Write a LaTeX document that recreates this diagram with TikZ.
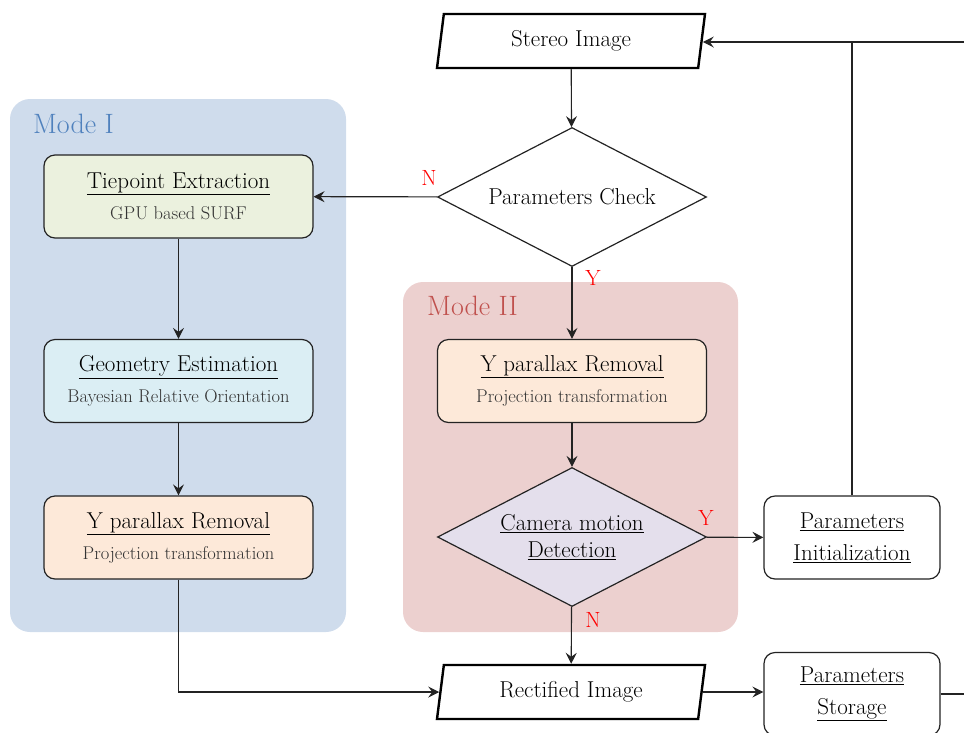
\documentclass[tikz,border=0pt]{standalone}
\usepackage{fontspec}
\usetikzlibrary{shapes,arrows.meta}

\definecolor{modeonebg}{RGB}{207,220,236}
\definecolor{modetwobg}{RGB}{236,208,207}
\definecolor{modeonetxt}{RGB}{79,129,189}
\definecolor{modetwotxt}{RGB}{192,80,77}
\definecolor{tiefill}{RGB}{235,241,222}
\definecolor{geofill}{RGB}{219,238,244}
\definecolor{yplfill}{RGB}{253,233,217}
\definecolor{camfill}{RGB}{228,223,236}
\definecolor{linecol}{RGB}{35,35,35}

\newcommand{\subtxt}[1]{{\fontsize{18.5}{22}\selectfont\color{black!80} #1}}

\begin{document}
\begin{tikzpicture}[x=1pt,y=-1pt,
  flow/.style={draw=linecol, line width=1.1pt, -{Stealth[length=11pt,width=11pt,inset=4pt]}},
  plain/.style={draw=linecol, line width=1.1pt},
  box/.style={draw=linecol, line width=1.2pt, rounded corners=11pt, minimum width=269pt, minimum height=83pt, align=center, inner sep=2pt, font=\fontsize{23}{27}\selectfont},
  smallbox/.style={box, minimum width=176pt},
  io/.style={draw=black, line width=2.4pt, fill=white, trapezium, trapezium left angle=76, trapezium right angle=104, trapezium stretches body, minimum width=268pt, minimum height=54pt, font=\fontsize{23}{27}\selectfont},
  decide/.style={draw=linecol, line width=1.2pt, diamond, aspect=2.2, minimum width=269pt, minimum height=139pt, inner sep=0pt, align=center, font=\fontsize{23}{27}\selectfont},
  yesno/.style={text=red, inner sep=0pt, font=\fontsize{22}{26}\selectfont},
  modelabel/.style={anchor=base west, inner sep=0pt, font=\fontsize{28}{32}\selectfont}]
  % \draw[step=50,thin,gray!40] (0,0) grid (964,732);
  \useasboundingbox (0,0) rectangle (964,732);

  \fill[modeonebg, rounded corners=20pt] (10,99) rectangle (346,632);
  \fill[modetwobg, rounded corners=20pt] (403,282) rectangle (738,632);
  \node[modelabel, text=modeonetxt] (modeone) at (33,133) {Mode I};
  \node[modelabel, text=modetwotxt] (modetwo) at (427,315) {Mode II};

  \node[io] (stereo) at (571,41) {Stereo Image};
  \node[decide, fill=white] (check) at (572,197) {Parameters Check};

  \node[box, fill=tiefill] (tie) at (178.5,196.5) {\underline{Tiepoint Extraction}\\[4pt]\subtxt{GPU based SURF}};
  \node[box, fill=geofill] (geo) at (178.5,381) {\underline{Geometry Estimation}\\[4pt]\subtxt{Bayesian Relative Orientation}};
  \node[box, fill=yplfill] (yplone) at (178.5,537.5) {\underline{Y parallax Removal}\\[4pt]\subtxt{Projection transformation}};

  \node[box, fill=yplfill] (ypltwo) at (572,381) {\underline{Y parallax Removal}\\[4pt]\subtxt{Projection transformation}};
  \node[decide, fill=camfill] (cam) at (572,537) {\underline{Camera motion}\\\underline{Detection}};

  \node[smallbox, fill=white] (init) at (852,537.5) {\underline{Parameters}\\[5pt]\underline{Initialization}};
  \node[io] (rect) at (571,692) {Rectified Image};
  \node[smallbox, fill=white] (store) at (852,694) {\underline{Parameters}\\[5pt]\underline{Storage}};

  \coordinate (fb) at (964,42);
  \coordinate (out) at (964,694);

  \node[yesno] (nocheck) at (429,178) {N};
  \node[yesno] (yescheck) at (593,278) {Y};
  \node[yesno] (yescam) at (706,518) {Y};
  \node[yesno] (nocam) at (593,620) {N};

  \draw[flow] (stereo) -- (check);
  \draw[flow] (check) -- (tie);
  \draw[flow] (tie) -- (geo);
  \draw[flow] (geo) -- (yplone);
  \draw[flow] (yplone.south) |- (rect.west);
  \draw[flow] (check) -- (ypltwo);
  \draw[flow] (ypltwo) -- (cam);
  \draw[flow] (cam) -- (init);
  \draw[flow] (cam) -- (rect);
  \draw[flow] (rect.east) -- (rect.east -| store.west);
  \draw[plain] (store) -- (out);
  \draw[plain] (init) -- (init |- fb);
  \draw[flow] (fb) -- (stereo.east |- fb);
\end{tikzpicture}
\end{document}
